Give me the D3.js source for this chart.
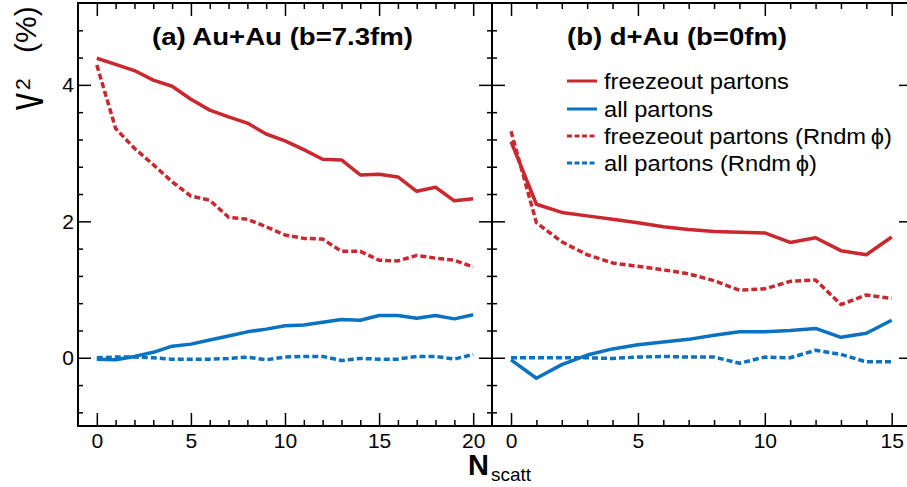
<!DOCTYPE html>
<html>
<head>
<meta charset="utf-8">
<script src="https://cdn.jsdelivr.net/npm/d3@7"></script>
<style>
  html, body { margin: 0; padding: 0; background: #fff; }
  svg { display: block; font-family: "Liberation Sans", Arial, Helvetica, sans-serif; }
</style>
</head>
<body>
<svg id="chart" width="907" height="487"></svg>
<script>
// Elliptic flow v2 (%) versus number of scatterings
const nscattAuAu = [0,1,2,3,4,5,6,7,8,9,10,11,12,13,14,15,16,17,18,19,20];
const nscattDAu  = [0,1,2,3,4,5,6,7,8,9,10,11,12,13,14,15];

// (a) Au+Au, b = 7.3 fm
const auFreeze    = [4.39,4.30,4.21,4.07,3.98,3.79,3.63,3.53,3.44,3.28,3.18,3.05,2.91,2.90,2.68,2.69,2.65,2.44,2.50,2.30,2.33];
const auAll       = [-0.02,-0.03,0.02,0.08,0.17,0.20,0.26,0.32,0.38,0.42,0.47,0.48,0.52,0.56,0.55,0.62,0.62,0.58,0.62,0.57,0.63];
const auFreezeRnd = [4.29,3.36,3.07,2.83,2.58,2.37,2.31,2.06,2.03,1.92,1.80,1.75,1.74,1.56,1.56,1.43,1.42,1.50,1.46,1.43,1.33];
const auAllRnd    = [0.00,0.01,0.01,0.00,-0.02,-0.02,-0.02,-0.01,0.01,-0.03,0.01,0.02,0.02,-0.04,-0.01,-0.02,-0.02,0.02,0.02,-0.02,0.05];

// (b) d+Au, b = 0 fm
const daFreeze    = [3.17,2.25,2.13,2.08,2.03,1.98,1.92,1.88,1.85,1.84,1.83,1.69,1.76,1.57,1.51,1.77];
const daAll       = [-0.03,-0.30,-0.10,0.04,0.13,0.19,0.23,0.27,0.33,0.38,0.38,0.40,0.43,0.30,0.36,0.55];
const daFreezeRnd = [3.32,1.98,1.70,1.51,1.39,1.34,1.29,1.23,1.13,0.99,1.01,1.12,1.14,0.78,0.92,0.87];
const daAllRnd    = [0.00,0.00,0.00,0.00,-0.01,0.01,0.02,0.01,0.01,-0.08,0.01,0.00,0.11,0.05,-0.06,-0.06];

const yMajorTicks = [0, 2, 4];
const yMinorTicks = [-0.8,-0.4,0.4,0.8,1.2,1.6,2.4,2.8,3.2,3.6,4.4,4.8];
const xMajorAuAu = [0,5,10,15,20];
const xMajorDAu  = [0,5,10,15];

const seriesNames = ["freezeout partons", "all partons", "freezeout partons (Rndm\u2009\u03D5)", "all partons (Rndm\u2009\u03D5)"];

const RED = "#c9282f", BLUE = "#0b72c1";
const styles = [
  {color: RED,  dash: null},
  {color: BLUE, dash: null},
  {color: RED,  dash: "6,3"},
  {color: BLUE, dash: "6,3"}
];

const svg = d3.select("#chart");
const plotTop = 3, plotBottom = 426;
const y = d3.scaleLinear().domain([-1, 5.2]).range([plotBottom, plotTop]);

const panels = [
  {x0: 78,  x1: 492, domain: [-1, 21],      xs: nscattAuAu, series: [auFreeze, auAll, auFreezeRnd, auAllRnd],
   majors: xMajorAuAu, title: "(a) Au+Au (b=7.3fm)", titleX: 152, titleW: 261, yLabels: true},
  {x0: 492, x1: 912, domain: [-0.75, 15.8], xs: nscattDAu,  series: [daFreeze, daAll, daFreezeRnd, daAllRnd],
   majors: xMajorDAu,  title: "(b) d+Au (b=0fm)",    titleX: 567, titleW: 220, yLabels: false}
];

panels.forEach(p => {
  const x = d3.scaleLinear().domain(p.domain).range([p.x0, p.x1]);
  const g = svg.append("g");
  const minorX = p.xs.filter(v => !p.majors.includes(v));

  // bottom axis: major ticks with labels, minor ticks without
  g.append("g").attr("transform", `translate(0,${plotBottom})`)
    .call(d3.axisBottom(x).tickValues(p.majors).tickSize(-13).tickSizeOuter(0).tickPadding(7).tickFormat(d3.format("d")));
  g.append("g").attr("transform", `translate(0,${plotBottom})`)
    .call(d3.axisBottom(x).tickValues(minorX).tickSize(-6).tickSizeOuter(0).tickFormat(""));
  // top axis
  g.append("g").attr("transform", `translate(0,${plotTop})`)
    .call(d3.axisTop(x).tickValues(p.majors).tickSize(-13).tickSizeOuter(0).tickFormat(""));
  g.append("g").attr("transform", `translate(0,${plotTop})`)
    .call(d3.axisTop(x).tickValues(minorX).tickSize(-6).tickSizeOuter(0).tickFormat(""));
  // left and right y axes
  g.append("g").attr("transform", `translate(${p.x0},0)`)
    .call(d3.axisLeft(y).tickValues(yMajorTicks).tickSize(-13).tickSizeOuter(0).tickPadding(4)
      .tickFormat(p.yLabels ? d3.format("d") : ""));
  g.append("g").attr("transform", `translate(${p.x0},0)`)
    .call(d3.axisLeft(y).tickValues(yMinorTicks).tickSize(-5).tickSizeOuter(0).tickFormat(""));
  g.append("g").attr("transform", `translate(${p.x1},0)`)
    .call(d3.axisRight(y).tickValues(yMajorTicks).tickSize(-13).tickSizeOuter(0).tickFormat(""));
  g.append("g").attr("transform", `translate(${p.x1},0)`)
    .call(d3.axisRight(y).tickValues(yMinorTicks).tickSize(-5).tickSizeOuter(0).tickFormat(""));

  g.selectAll(".domain").remove();
  g.selectAll(".tick line").attr("stroke", "#000").attr("stroke-width", 1.5);
  g.selectAll(".tick text").attr("font-size", 21).attr("fill", "#000")
    .attr("font-family", "'Liberation Sans', Arial, sans-serif");

  // frame
  g.append("rect").attr("x", p.x0).attr("y", plotTop).attr("width", p.x1 - p.x0).attr("height", plotBottom - plotTop)
    .attr("fill", "none").attr("stroke", "#000").attr("stroke-width", 2);

  // curves
  const line = d3.line().x((d, i) => x(p.xs[i])).y(d => y(d));
  p.series.forEach((s, k) => {
    g.append("path").datum(s).attr("d", line)
      .attr("fill", "none").attr("stroke", styles[k].color).attr("stroke-width", 3.5)
      .attr("stroke-dasharray", styles[k].dash).attr("stroke-linejoin", "round");
  });

  // panel title
  g.append("text").attr("x", p.titleX).attr("y", 45)
    .attr("font-size", 24.5).attr("font-weight", "bold").attr("fill", "#000")
    .attr("textLength", p.titleW).attr("lengthAdjust", "spacingAndGlyphs")
    .text(p.title);
});

// legend in panel (b)
const legendRows = [81, 109, 136, 163];
const legendWidths = [185, 109, 288, 213];
const leg = svg.append("g");
seriesNames.forEach((name, k) => {
  leg.append("line").attr("x1", 567).attr("x2", 597).attr("y1", legendRows[k]).attr("y2", legendRows[k])
    .attr("stroke", styles[k].color).attr("stroke-width", 3).attr("stroke-dasharray", styles[k].dash ? "5,2.5" : null);
  leg.append("text").attr("x", 604).attr("y", legendRows[k] + 7.5)
    .attr("font-size", 22).attr("fill", "#000")
    .attr("textLength", legendWidths[k]).attr("lengthAdjust", "spacingAndGlyphs")
    .text(name);
});

// y-axis title: v2 (%)
const yt = svg.append("g").attr("fill", "#000");
yt.append("text").attr("transform", "translate(43,110) rotate(-90) scale(1,1.45)")
  .attr("font-size", 34).text("v");
yt.append("text").attr("transform", "translate(30,90) rotate(-90)")
  .attr("font-size", 21).text("2");
yt.append("text").attr("transform", "translate(36,53) rotate(-90)")
  .attr("font-size", 30).text("(%)");

// x-axis title: N_scatt
svg.append("text").attr("x", 468).attr("y", 475).attr("font-size", 29).attr("font-weight", "bold").text("N");
svg.append("text").attr("x", 491).attr("y", 481).attr("font-size", 19).text("scatt");
</script>
</body>
</html>
